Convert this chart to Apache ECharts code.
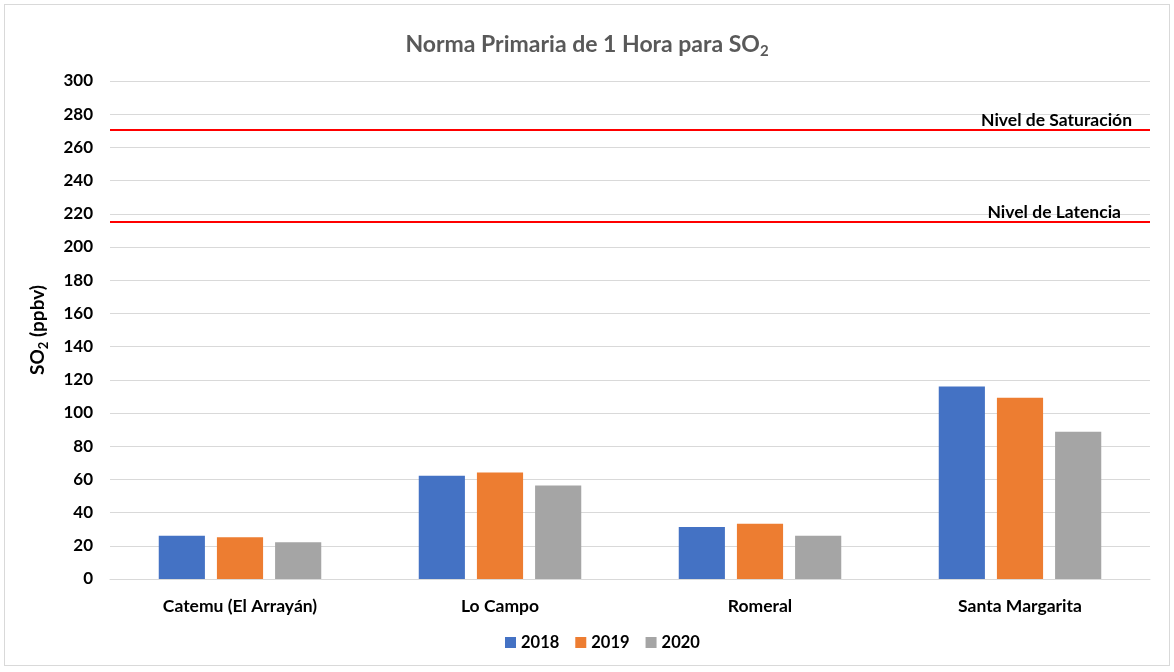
<!DOCTYPE html>
<html>
<head>
<meta charset="utf-8">
<script src="https://cdn.jsdelivr.net/npm/echarts@6/dist/echarts.min.js"></script>
<style>
  html, body { margin: 0; padding: 0; background: #fff; }
  #frame { position: absolute; left: 4px; top: 4px; width: 1166px; height: 662px; border: 1px solid #d9d9d9; box-sizing: border-box; }
  #myChart { position: absolute; left: 0; top: 0; width: 1174px; height: 672px; }
</style>
</head>
<body>
<div id="frame"></div>
<div id="myChart"></div>
<script>
// estaciones y valores maximos horarios (ppbv)
var categories = ['Catemu (El Arrayán)', 'Lo Campo', 'Romeral', 'Santa Margarita'];
var years = ['2018', '2019', '2020'];
var values2018 = [26, 62.2, 31.3, 116];
var values2019 = [25.1, 64.2, 33.3, 109.2];
var values2020 = [22.1, 56.4, 26.1, 88.7];
var nivelSaturacion = 270.5;
var nivelLatencia = 215;

var font = 'Lato';
var colors = ['#4472c4', '#ed7d31', '#a5a5a5'];

var myChart = echarts.init(document.getElementById('myChart'));

var option = {
    animation: false,
    textStyle: { fontFamily: font },
    title: {
        text: '{a|Norma Primaria de 1 Hora para SO}{b|2}',
        left: 'center',
        top: 26,
        textStyle: {
            rich: {
                a: { fontFamily: font, fontSize: 23, fontWeight: 'bold', color: '#595959', lineHeight: 28 },
                b: { fontFamily: font, fontSize: 15, fontWeight: 'bold', color: '#595959', lineHeight: 28, verticalAlign: 'bottom', padding: [12, 0, 0, 0] }
            }
        }
    },
    legend: {
        data: years,
        bottom: 16,
        left: 500,
        icon: 'rect',
        itemWidth: 11,
        itemHeight: 11,
        itemGap: 16,
        textStyle: { fontFamily: font, fontSize: 16.5, fontWeight: 'bold', color: '#000' }
    },
    grid: { left: 110, right: 24, top: 81, bottom: 93 },
    xAxis: {
        type: 'category',
        data: categories,
        axisTick: { show: false },
        axisLine: { lineStyle: { color: '#d9d9d9' } },
        axisLabel: { fontFamily: font, fontSize: 17.5, fontWeight: 'bold', color: '#000', margin: 18 }
    },
    yAxis: {
        type: 'value',
        min: 0,
        max: 300,
        interval: 20,
        name: '{a|SO}{b|2}{a| (ppbv)}',
        nameLocation: 'middle',
        nameRotate: 90,
        nameGap: 60,
        nameTextStyle: {
            rich: {
                a: { fontFamily: font, fontSize: 19, fontWeight: 'bold', color: '#000', lineHeight: 24 },
                b: { fontFamily: font, fontSize: 13, fontWeight: 'bold', color: '#000', lineHeight: 24, verticalAlign: 'bottom', padding: [10, 0, 0, 0] }
            }
        },
        axisLine: { show: false },
        axisTick: { show: false },
        splitLine: { lineStyle: { color: '#d9d9d9', width: 1 } },
        axisLabel: { fontFamily: font, fontSize: 17, fontWeight: 'bold', color: '#000', margin: 17 }
    },
    series: [
        {
            name: years[0], type: 'bar', data: values2018,
            itemStyle: { color: colors[0] },
            barGap: '26%', barCategoryGap: '37.5%',
            markLine: {
                silent: true,
                symbol: 'none',
                lineStyle: { color: '#ff0000', width: 2, type: 'solid' },
                label: {
                    position: 'insideEndTop',
                    distance: [18, 1],
                    fontFamily: font, fontSize: 17.5, fontWeight: 'bold', color: '#000',
                    formatter: function (p) { return p.name; }
                },
                data: [
                    { name: 'Nivel de Saturación', yAxis: nivelSaturacion },
                    { name: 'Nivel de Latencia', yAxis: nivelLatencia, label: { distance: [29, 1] } }
                ]
            }
        },
        { name: years[1], type: 'bar', data: values2019, itemStyle: { color: colors[1] } },
        { name: years[2], type: 'bar', data: values2020, itemStyle: { color: colors[2] } }
    ]
};

myChart.setOption(option);
</script>
</body>
</html>
